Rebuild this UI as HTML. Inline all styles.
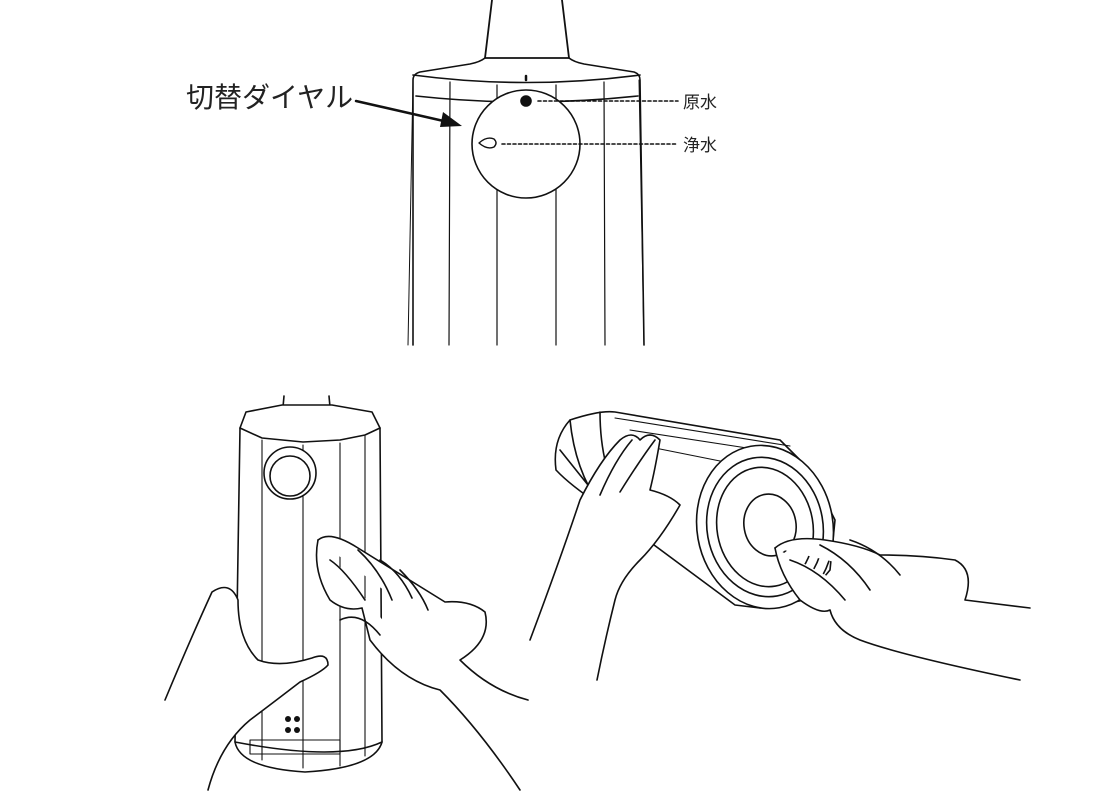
<!DOCTYPE html>
<html><head><meta charset="utf-8"><style>
html,body{margin:0;padding:0;background:#fff;}
svg{display:block;}
text{font-family:"Liberation Sans","Noto Sans CJK JP",sans-serif;fill:#222;}
</style></head><body>
<svg width="1120" height="800" viewBox="0 0 1120 800" fill="none" stroke="#111" stroke-width="1.6" stroke-linejoin="round" stroke-linecap="round">
<!-- TOP -->
<path d="M492 0 L485 58 M562 0 L569 58 M485 58 L569 58" stroke-width="1.8"/>
<path d="M485 58 Q480 62 470 64 L420 72 Q413 74 413 80 L413 345"/>
<path d="M569 58 Q574 62 584 64 L634 72 Q640 74 640 80 L644 345"/>
<path d="M413 75 Q526 90 640 75"/>
<path d="M416 96 Q526 108 638 96"/>
<path d="M408 345 L413 80 M644 345 L639 80" stroke-width="1"/>
<path d="M450 82 L449 345 M497 85 L497 345 M556 85 L556 345 M604 82 L605 345" stroke-width="1.2"/>
<line x1="526" y1="76" x2="526" y2="80" stroke-width="2.5"/>
<circle cx="526" cy="144" r="54" fill="#fff"/>
<circle cx="526" cy="101" r="5" fill="#111"/>
<path d="M479 143 Q487 136 494 139 Q498 143 494 147 Q487 150 479 143Z" stroke-width="1.4"/>
<line x1="538" y1="101" x2="678" y2="101" stroke-dasharray="3 2.5"/>
<line x1="502" y1="144" x2="678" y2="144" stroke-dasharray="3 2.5"/>
<text x="683" y="108" font-size="17" stroke="none">原水</text>
<text x="683" y="151" font-size="17" stroke="none">浄水</text>
<text x="186" y="107" font-size="28" stroke="none" fill="#111">切替ダイヤル</text>
<line x1="356" y1="101" x2="448" y2="122" stroke-width="2.5"/>
<path d="M462 126 L443 112 L440 127Z" fill="#111" stroke="none"/>

<!-- BOTTOM LEFT cylinder -->
<path d="M284 396 L282 418 M329 396 L331 418"/>
<path d="M240 428 L246 412 L282 405 L332 405 L372 412 L380 428 L382 742 Q340 762 235 742 Z" fill="#fff"/>
<path d="M240 428 L262 438 L303 442 L340 440 L365 435 L380 428"/>
<path d="M262 440 L262 760 M303 445 L303 768 M340 443 L340 766 M365 436 L365 756" stroke-width="1.1"/>
<circle cx="290" cy="473" r="26" fill="#fff"/>
<circle cx="290" cy="476" r="20" fill="#fff"/>
<path d="M235 742 Q240 768 305 772 Q375 768 382 742"/>
<rect x="250" y="740" width="90" height="14" stroke-width="1.1"/>
<g fill="#111" stroke="none"><circle cx="288" cy="719" r="3"/><circle cx="297" cy="719" r="3"/><circle cx="288" cy="730" r="3"/><circle cx="297" cy="730" r="3"/></g>
<!-- left hand -->
<path d="M165 700 Q190 640 212 592 Q230 580 238 600 Q238 640 258 660 Q280 668 312 658 Q328 652 328 665 Q322 672 300 682 Q270 705 250 720 Q220 745 208 790" fill="#fff"/>
<!-- right hand with cloth -->
<path d="M318 540 Q330 530 358 548 L445 602 Q470 600 485 612 Q492 640 460 660 Q490 690 528 700" fill="#fff"/>
<path d="M318 540 Q312 570 330 600 Q345 612 362 608 L370 640 Q400 680 440 690 Q480 730 520 790" fill="#fff"/>
<path d="M330 560 Q345 570 365 600 M358 550 Q380 570 392 600 M380 560 Q400 572 412 598 M400 570 Q420 590 428 610"/>
<path d="M340 620 Q360 610 380 635"/>

<!-- BOTTOM RIGHT roller -->
<path d="M570 420 Q600 410 615 412 L780 440 L810 470 L835 520 L830 570 L805 600 L760 608 L735 605 L600 505 Q570 485 556 470 Q552 440 570 420Z" fill="#fff"/>
<path d="M570 420 Q575 470 600 505 M600 412 Q600 470 625 510 M560 450 L600 500"/>
<path d="M615 418 L790 446 M630 430 L760 450 M640 445 L740 465" stroke-width="1.1"/>
<ellipse cx="765" cy="527" rx="68" ry="82" transform="rotate(-10 765 527)" fill="#fff"/>
<ellipse cx="765" cy="527" rx="58" ry="70" transform="rotate(-10 765 527)"/>
<ellipse cx="765" cy="527" rx="48" ry="60" transform="rotate(-10 765 527)"/>
<ellipse cx="770" cy="525" rx="26" ry="31" transform="rotate(-10 770 525)" fill="#fff"/>
<!-- hand on roller -->
<path d="M530 640 Q560 560 580 500 Q600 460 620 440 Q632 430 640 440 Q650 430 660 440 Q655 470 650 490 Q670 495 680 505 Q660 540 640 560 Q620 580 615 600 Q605 640 597 680" fill="#fff"/>
<path d="M600 495 Q615 460 632 440 M620 492 Q640 460 655 440"/>
<!-- right hand with cloth -->
<path d="M775 548 Q790 535 825 540 Q860 545 880 555 Q920 555 955 560 Q975 570 965 600 L1030 608" fill="#fff"/>
<path d="M775 548 Q780 575 800 600 Q820 615 830 610 Q835 630 860 640 Q900 655 1020 680" fill="#fff"/>
<path d="M790 560 Q820 570 845 600 M820 545 Q850 560 870 590 M850 540 Q880 550 900 575"/>
</svg>
</body></html>
